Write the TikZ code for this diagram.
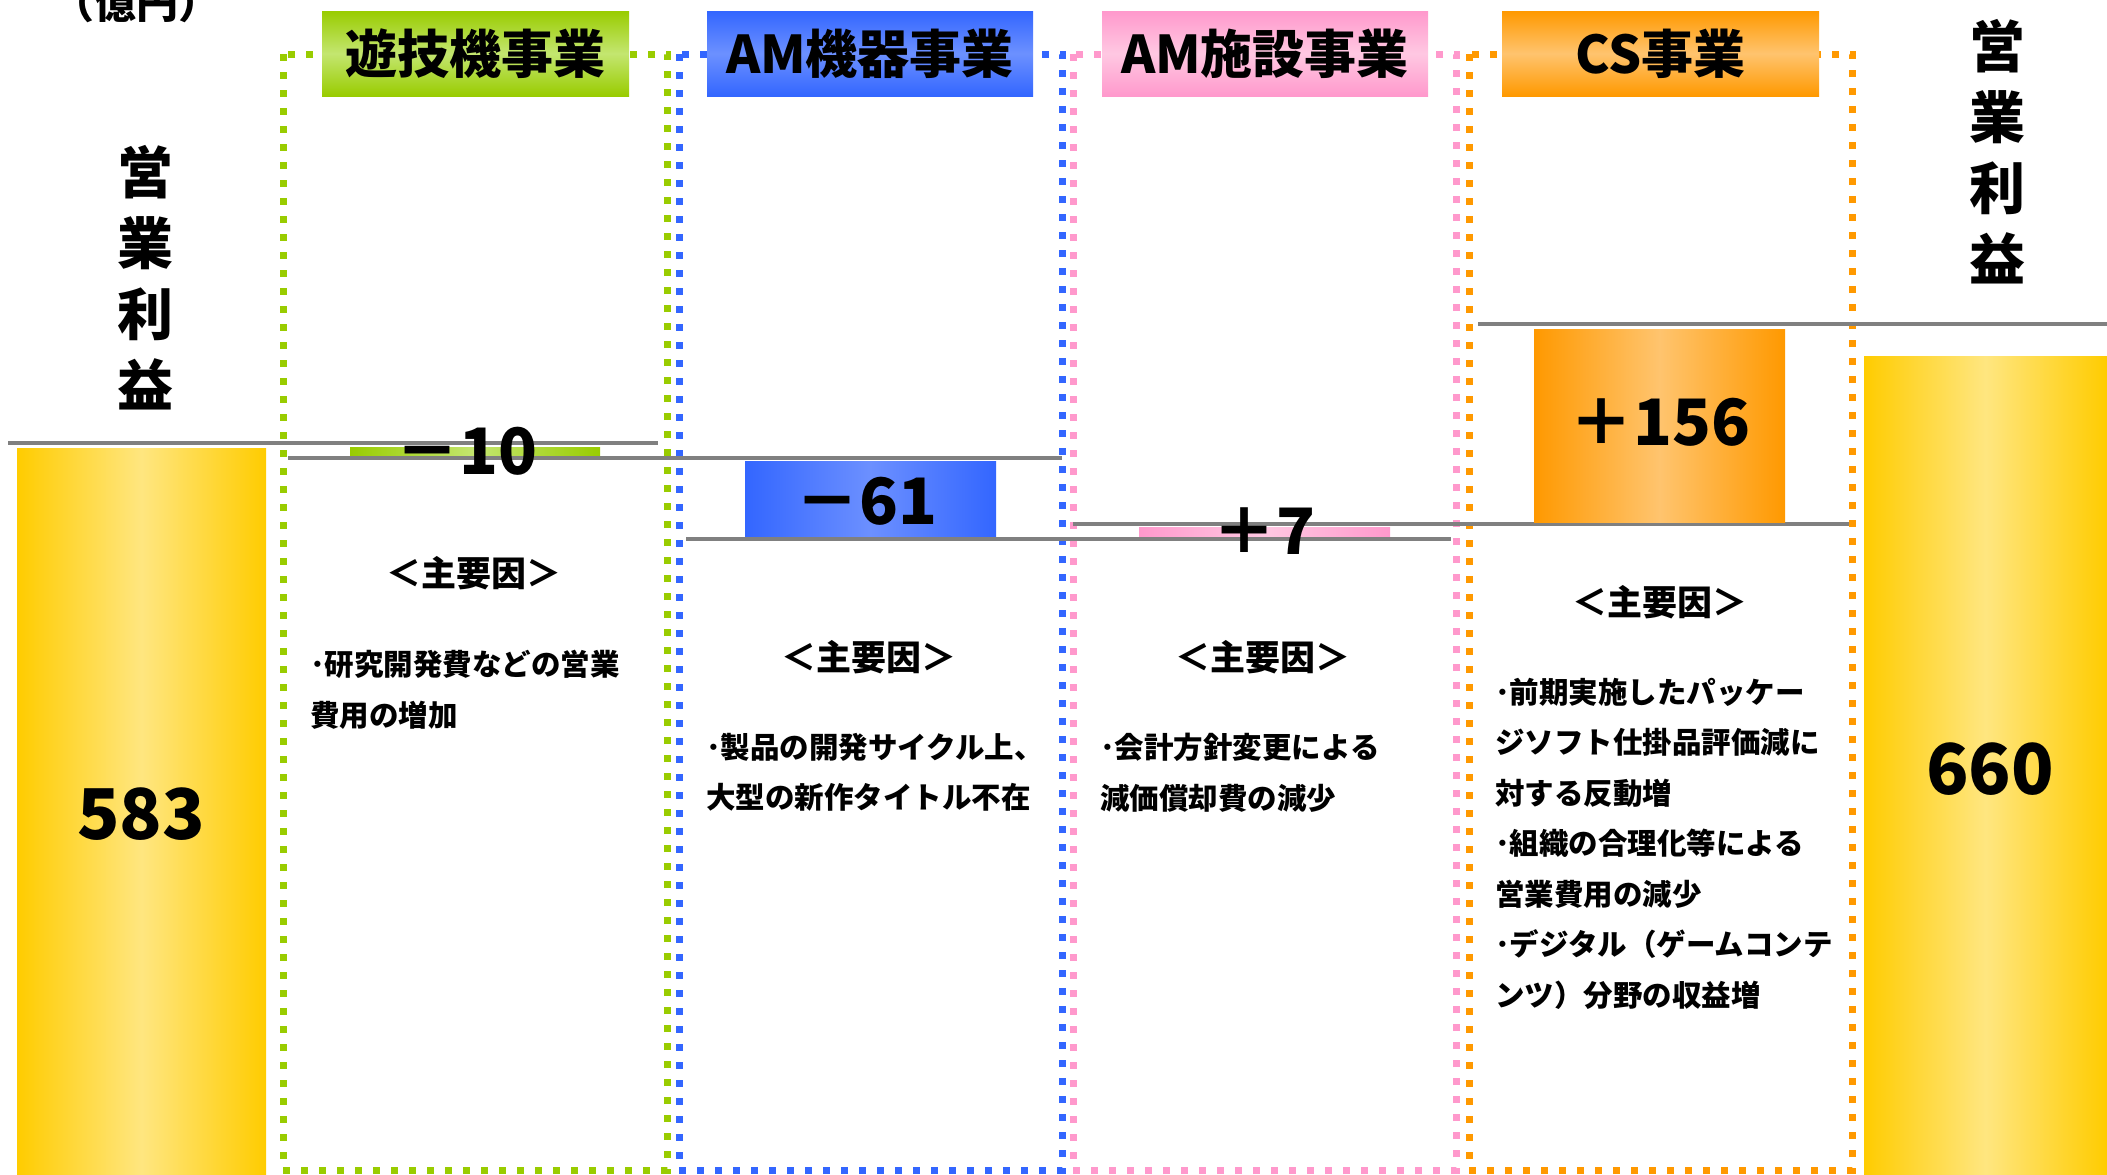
\documentclass[tikz,border=0pt]{standalone}
\usepackage{fontspec}
\setmainfont{Noto Sans CJK JP}
\usepackage{xcolor}
\definecolor{pachiEdge}{HTML}{99CC00}
\definecolor{pachiMid}{HTML}{C4E670}
\definecolor{amkEdge}{HTML}{3366FF}
\definecolor{amkMid}{HTML}{6C90FF}
\definecolor{amsEdge}{HTML}{FF99CC}
\definecolor{amsMid}{HTML}{FFC8E2}
\definecolor{csEdge}{HTML}{FF9900}
\definecolor{csMid}{HTML}{FFC46E}
\definecolor{opEdge}{HTML}{FFCC00}
\definecolor{opMid}{HTML}{FFE680}
\definecolor{lvlGray}{HTML}{808080}

\begin{document}
\begin{tikzpicture}[x=1pt,y=-1pt,
    lvl/.style={draw=lvlGray,line width=4.5pt},
    segbox/.style={line width=7pt,dash pattern=on 7pt off 11pt},
    ttl/.style={inner sep=0pt,minimum width=#1,minimum height=85pt,
        font=\fontsize{52}{60}\selectfont\bfseries},
    num/.style={inner sep=0pt,font=\fontsize{64}{70}\selectfont\bfseries},
    bignum/.style={inner sep=0pt,font=\fontsize{70}{80}\selectfont\bfseries},
    vtxt/.style={inner sep=0pt,align=center,font=\fontsize{56}{71}\selectfont\bfseries},
    cause/.style={inner sep=0pt,font=\fontsize{35}{40}\selectfont\bfseries},
    memo/.style={inner sep=0pt,anchor=north west,align=left,
        font=\fontsize{29.5}{50.5}\selectfont\bfseries}]
    \useasboundingbox (0,0) rectangle (2107,1175);

    % Unit and left total
    \node (unit) [inner sep=0pt,font=\fontsize{42}{48}\selectfont\bfseries] at (136,3) {（億円）};
    \node (oplLeft) [vtxt] at (145,277.5) {営\\業\\利\\益};
    \shade[left color=opEdge,right color=opEdge,middle color=opMid] (17,448) rectangle (266,1175);
    \node (valLeft) [bignum] at (141,814) {583};
    \draw[lvl] (8,443) -- (658,443);

    % Segment frames
    \draw[segbox,draw=pachiEdge] (283,54) rectangle (667,1170);
    \draw[segbox,draw=amkEdge] (679,54) rectangle (1062,1170);
    \draw[segbox,draw=amsEdge] (1073,54) rectangle (1456,1170);
    \draw[segbox,draw=csEdge] (1469,54) rectangle (1852,1170);

    % Segment titles
    \node (ttlPachi) [ttl=307pt,top color=pachiEdge,bottom color=pachiEdge,middle color=pachiMid] at (475.5,53.5) {遊技機事業};
    \node (ttlAMK) [ttl=326pt,top color=amkEdge,bottom color=amkEdge,middle color=amkMid] at (870,53.5) {AM機器事業};
    \node (ttlAMS) [ttl=326pt,top color=amsEdge,bottom color=amsEdge,middle color=amsMid] at (1265,53.5) {AM施設事業};
    \node (ttlCS) [ttl=317pt,top color=csEdge,bottom color=csEdge,middle color=csMid] at (1660.5,53.5) {CS事業};

    % Pachi (-10)
    \shade[left color=pachiEdge,right color=pachiEdge,middle color=pachiMid] (350,447) rectangle (600,456);
    \draw[lvl] (288,458) -- (1062,458);
    \node (numPachi) [num] at (466,451) {－10};

    % AM machines (-61)
    \shade[left color=amkEdge,right color=amkEdge,middle color=amkMid] (745,461) rectangle (996,536);
    \draw[lvl] (686,539) -- (1451,539);
    \node (numAMK) [num] at (866,501) {－61};

    % AM facilities (+7)
    \shade[left color=amsEdge,right color=amsEdge,middle color=amsMid] (1139,527) rectangle (1390,536);
    \draw[lvl] (1073,524) -- (1849,524);
    \node (numAMS) [num] at (1264,531) {＋7};

    % CS (+156)
    \shade[left color=csEdge,right color=csEdge,middle color=csMid] (1534,329) rectangle (1785,522);
    \draw[lvl] (1478,324) -- (2107,324);
    \node (numCS) [num] at (1660,422) {＋156};

    % Right total
    \node (oplRight) [vtxt] at (1997,151.5) {営\\業\\利\\益};
    \shade[left color=opEdge,right color=opEdge,middle color=opMid] (1864,356) rectangle (2107,1175);
    \node (valRight) [bignum] at (1990,769) {660};

    % Main causes
    \node (causePachi) [cause] at (474,573) {＜主要因＞};
    \node (memoPachi) [memo] at (310,650) {･研究開発費などの営業\\費用の増加};
    \node (causeAMK) [cause] at (869,657) {＜主要因＞};
    \node (memoAMK) [memo] at (706,733) {･製品の開発サイクル上、\\大型の新作タイトル不在};
    \node (causeAMS) [cause] at (1263,657) {＜主要因＞};
    \node (memoAMS) [memo] at (1100,733) {･会計方針変更による\\減価償却費の減少};
    \node (causeCS) [cause] at (1660,602) {＜主要因＞};
    \node (memoCS) [memo] at (1495,678) {･前期実施したパッケー\\ジソフト仕掛品評価減に\\対する反動増\\･組織の合理化等による\\営業費用の減少\\･デジタル（ゲームコンテ\\ンツ）分野の収益増};
\end{tikzpicture}
\end{document}
